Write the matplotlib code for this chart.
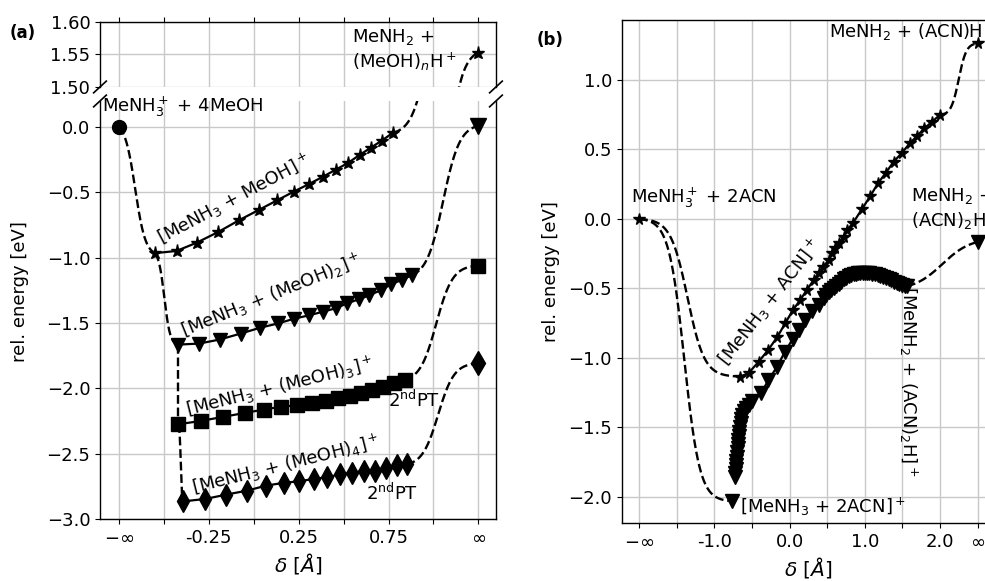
import numpy as np
import matplotlib
matplotlib.use("Agg")
import matplotlib.pyplot as plt

plt.rcParams['font.size'] = 13
plt.rcParams['axes.linewidth'] = 1.0

# ---------------- panel (a) data ----------------
a_x_minf = -0.75          # position of -inf tick
a_x_inf = 1.25            # position of +inf tick
a_start_y = 0.0           # MeNH3+ + 4MeOH

a1_x = [-0.55, -0.43, -0.318, -0.198, -0.082, 0.028, 0.132, 0.224, 0.307, 0.385,
        0.456, 0.524, 0.589, 0.65, 0.713, 0.774]
a1_y = [-0.965, -0.948, -0.885, -0.803, -0.713, -0.634, -0.559, -0.493, -0.436, -0.38,
        -0.326, -0.275, -0.213, -0.159, -0.103, -0.044]
a2_x = [-0.42, -0.304, -0.189, -0.072, 0.035, 0.135, 0.224, 0.307, 0.385, 0.456,
        0.52, 0.585, 0.644, 0.706, 0.765, 0.824, 0.88]
a2_y = [-1.665, -1.657, -1.626, -1.58, -1.536, -1.503, -1.467, -1.441, -1.413, -1.387,
        -1.349, -1.318, -1.287, -1.249, -1.203, -1.169, -1.133]
a3_x = [-0.42, -0.294, -0.17, -0.05, 0.057, 0.149, 0.243, 0.326, 0.40, 0.468,
        0.537, 0.598, 0.659, 0.718, 0.779, 0.839]
a3_y = [-2.275, -2.249, -2.218, -2.188, -2.162, -2.141, -2.129, -2.111, -2.093, -2.077,
        -2.059, -2.039, -2.013, -1.988, -1.962, -1.936]
a4_x = [-0.393, -0.272, -0.152, -0.035, 0.07, 0.167, 0.252, 0.335, 0.41, 0.478,
        0.546, 0.611, 0.676, 0.737, 0.796, 0.851]
a4_y = [-2.865, -2.847, -2.813, -2.782, -2.744, -2.723, -2.711, -2.693, -2.68, -2.659,
        -2.646, -2.634, -2.629, -2.611, -2.59, -2.582]
a_inf_y = [1.553, 0.01, -1.06, -1.808]   # stars, triangles, squares, diamonds at +inf

a_xticks = [-0.75, -0.5, -0.25, 0.0, 0.25, 0.5, 0.75, 1.0, 1.25]
a_xticklabels = [r'$-\infty$', '', '-0.25', '', '0.25', '', '0.75', '', r'$\infty$']

# ---------------- panel (b) data ----------------
b_x_minf = -2.0
b_x_inf = 2.5
b_start_y = 0.0           # MeNH3+ + 2ACN

b1_x = [-0.656, -0.545, -0.41, -0.28, -0.16, -0.057, 0.045, 0.142, 0.23, 0.32,
        0.386, 0.45, 0.52, 0.563, 0.608, 0.652, 0.718, 0.763, 0.843, 0.963,
        1.073, 1.175, 1.28, 1.383, 1.495, 1.596, 1.694, 1.79, 1.894, 1.995]
b1_y = [-1.134, -1.11, -1.027, -0.94, -0.847, -0.75, -0.655, -0.583, -0.51, -0.44,
        -0.39, -0.343, -0.295, -0.247, -0.21, -0.175, -0.127, -0.08, -0.029, 0.072,
        0.165, 0.257, 0.333, 0.412, 0.477, 0.544, 0.597, 0.652, 0.70, 0.748]
b2_min = (-0.77, -2.03)   # [MeNH3 + 2ACN]+ minimum
b2_x = [-0.725, -0.72, -0.715, -0.71, -0.705, -0.70, -0.695, -0.69, -0.685, -0.68,
        -0.675, -0.67, -0.66, -0.65, -0.64, -0.63, -0.61, -0.58, -0.54, -0.50,
        -0.38, -0.28, -0.168, -0.065, 0.04, 0.12, 0.209, 0.298, 0.386, 0.452,
        0.49, 0.52, 0.55, 0.585, 0.62, 0.652, 0.685, 0.718, 0.75, 0.785,
        0.82, 0.85, 0.88, 0.91, 0.94, 0.97, 1.0, 1.03, 1.06, 1.095,
        1.13, 1.17, 1.206, 1.24, 1.28, 1.317, 1.35, 1.39, 1.428, 1.46,
        1.50, 1.53, 1.56]
b2_y = [-1.86, -1.83, -1.80, -1.77, -1.74, -1.71, -1.68, -1.65, -1.62, -1.59,
        -1.56, -1.53, -1.50, -1.47, -1.44, -1.41, -1.38, -1.36, -1.34, -1.31,
        -1.255, -1.16, -1.065, -0.96, -0.865, -0.80, -0.725, -0.665, -0.617, -0.572,
        -0.545, -0.526, -0.51, -0.497, -0.48, -0.465, -0.45, -0.435, -0.422, -0.412,
        -0.403, -0.397, -0.393, -0.39, -0.388, -0.387, -0.387, -0.388, -0.39, -0.393,
        -0.398, -0.404, -0.41, -0.417, -0.425, -0.433, -0.442, -0.452, -0.46, -0.467,
        -0.474, -0.479, -0.484]
b_inf_y = [1.264, -0.165]   # stars, triangles at +inf

b_xticks = [-2.0, -1.5, -1.0, -0.5, 0.0, 0.5, 1.0, 1.5, 2.0, 2.5]
b_xticklabels = [r'$-\infty$', '', '-1.0', '', '0.0', '', '1.0', '', '2.0', r'$\infty$']


def connector(x0, y0, x1, y1, k=10.0, c=0.5, n=200):
    """smooth sigmoid-shaped dashed connection between two data points"""
    t = np.linspace(0, 1, n)
    s = 1 / (1 + np.exp(-k * (t - c)))
    s0 = 1 / (1 + np.exp(k * c))
    s1 = 1 / (1 + np.exp(-k * (1 - c)))
    s = (s - s0) / (s1 - s0)
    return x0 + (x1 - x0) * t, y0 + (y1 - y0) * s


DASH = dict(color='k', ls='--', lw=1.7)
SOLID = dict(color='k', ls='-', lw=1.6)

fig = plt.figure(figsize=(9.85, 5.81), dpi=100)

ax_top = fig.add_axes([0.1015, 0.8503, 0.402, 0.1119])
ax_bot = fig.add_axes([0.1015, 0.1067, 0.402, 0.7195])
ax_b = fig.add_axes([0.6312, 0.0993, 0.379, 0.8663])

for ax in (ax_top, ax_bot, ax_b):
    ax.set_axisbelow(True)
    ax.grid(True, color='#c8c8c8', lw=1.0)

# ---------- panel (a) ----------
xlim_a = (-0.856, 1.348)
for ax in (ax_top, ax_bot):
    ax.set_xlim(*xlim_a)
    ax.set_xticks(a_xticks)

ax_top.set_ylim(1.50, 1.60)
ax_top.set_yticks([1.50, 1.55, 1.60])
ax_top.set_yticklabels(['1.50', '1.55', '1.60'])
ax_top.spines['bottom'].set_visible(False)
ax_top.xaxis.tick_top()
ax_top.tick_params(axis='x', labeltop=False)

ax_bot.set_ylim(-3.0, 0.2)
ax_bot.set_yticks([-3.0, -2.5, -2.0, -1.5, -1.0, -0.5, 0.0])
ax_bot.spines['top'].set_visible(False)
ax_bot.xaxis.tick_bottom()
ax_bot.set_xticklabels(a_xticklabels)

ms = 9.5
# series
ax_bot.plot(a1_x, a1_y, marker='*', ms=ms, **SOLID)
ax_bot.plot(a2_x, a2_y, marker='v', ms=ms, **SOLID)
ax_bot.plot(a3_x, a3_y, marker='s', ms=ms, **SOLID)
ax_bot.plot(a4_x, a4_y, marker='d', ms=ms + 1.5, **SOLID)
ax_bot.plot([a_x_minf], [a_start_y], marker='o', ms=ms + 0.5, color='k', ls='none')
# end points at infinity
ax_top.plot([a_x_inf], [a_inf_y[0]], marker='*', ms=ms, color='k', ls='none', clip_on=False)
ax_bot.plot([a_x_inf], [a_inf_y[1]], marker='v', ms=ms + 1.5, color='k', ls='none')
ax_bot.plot([a_x_inf], [a_inf_y[2]], marker='s', ms=ms, color='k', ls='none')
ax_bot.plot([a_x_inf], [a_inf_y[3]], marker='d', ms=ms + 2.5, color='k', ls='none')

# dashed connectors (left side)
ax_bot.plot(*connector(a_x_minf, a_start_y, a1_x[0], a1_y[0], k=7, c=0.45), **DASH)
ax_bot.plot(*connector(a1_x[0], a1_y[0], a2_x[0], a2_y[0], k=8, c=0.4), **DASH)
ax_bot.plot(*connector(a2_x[0], a2_y[0], a3_x[0], a3_y[0], k=8, c=0.5), **DASH)
ax_bot.plot(*connector(a3_x[0], a3_y[0], a4_x[0], a4_y[0], k=8, c=0.5), **DASH)
# dashed connectors (right side)
cx, cy = connector(a1_x[-1], a1_y[-1], a_x_inf, a_inf_y[0], k=10, c=0.45)
ax_bot.plot(cx, cy, **DASH)
ax_top.plot(cx, cy, **DASH)
ax_bot.plot(*connector(a2_x[-1], a2_y[-1], a_x_inf, a_inf_y[1], k=8, c=0.47), **DASH)
ax_bot.plot(*connector(a3_x[-1], a3_y[-1], a_x_inf, a_inf_y[2], k=9, c=0.43), **DASH)
ax_bot.plot(*connector(a4_x[-1], a4_y[-1], a_x_inf, a_inf_y[3], k=9, c=0.44), **DASH)

# broken-axis marks
kw = dict(color='k', clip_on=False, lw=1.2)
dx = 0.016
dyt = 0.09
ax_top.plot([-dx, dx], [-dyt, dyt], transform=ax_top.transAxes, **kw)
ax_top.plot([1 - dx, 1 + dx], [-dyt, dyt], transform=ax_top.transAxes, **kw)
dyb = dyt * 0.1119 / 0.7195
ax_bot.plot([-dx, dx], [1 - dyb, 1 + dyb], transform=ax_bot.transAxes, **kw)
ax_bot.plot([1 - dx, 1 + dx], [1 - dyb, 1 + dyb], transform=ax_bot.transAxes, **kw)

# texts (a)
ax_bot.text(-0.842, 0.155, r'MeNH$_3^+$ + 4MeOH', ha='left', va='center')
ax_top.text(0.544, 1.557, 'MeNH$_2$ +\n(MeOH)$_n$H$^+$', ha='left', va='center')
ax_bot.text(-0.111, -0.554, r'[MeNH$_3$ + MeOH]$^+$', rotation=28, ha='center', va='center',
            rotation_mode='anchor')
ax_bot.text(0.10, -1.29, r'[MeNH$_3$ + (MeOH)$_2$]$^+$', rotation=22, ha='center', va='center',
            rotation_mode='anchor')
ax_bot.text(0.144, -1.99, r'[MeNH$_3$ + (MeOH)$_3$]$^+$', rotation=14, ha='center', va='center',
            rotation_mode='anchor')
ax_bot.text(0.178, -2.585, r'[MeNH$_3$ + (MeOH)$_4$]$^+$', rotation=14, ha='center', va='center',
            rotation_mode='anchor')
ax_bot.text(0.894, -2.09, r'2$^{\rm nd}$PT', ha='center', va='center')
ax_bot.text(0.77, -2.80, r'2$^{\rm nd}$PT', ha='center', va='center')

ax_bot.set_xlabel(r'$\delta\ [\AA]$', labelpad=3, fontsize=14.5)
fig.text(20 / 985, 1 - 291.5 / 581, 'rel. energy [eV]', rotation=90, ha='center', va='center',
         fontsize=13)
fig.text(10 / 985, 1 - 33 / 581, '(a)', fontweight='bold', ha='left', va='center', fontsize=12)

# ---------- panel (b) ----------
ax_b.set_xlim(-2.229, 2.73)
ax_b.set_ylim(-2.19, 1.432)
ax_b.set_xticks(b_xticks)
ax_b.set_xticklabels(b_xticklabels)
ax_b.set_yticks([-2.0, -1.5, -1.0, -0.5, 0.0, 0.5, 1.0])

msb = 8.5
ax_b.plot(b1_x, b1_y, marker='*', ms=msb, **SOLID)
ax_b.plot(b2_x, b2_y, marker='v', ms=msb + 1, **SOLID)
ax_b.plot([b_x_minf], [b_start_y], marker='*', ms=msb, color='k', ls='none')
ax_b.plot([b2_min[0]], [b2_min[1]], marker='v', ms=msb + 1.5, color='k', ls='none')
ax_b.plot([b_x_inf], [b_inf_y[0]], marker='*', ms=msb, color='k', ls='none')
ax_b.plot([b_x_inf], [b_inf_y[1]], marker='v', ms=msb + 1.5, color='k', ls='none')

ax_b.plot(*connector(b_x_minf, b_start_y, b1_x[0], b1_y[0], k=12, c=0.48), **DASH)
ax_b.plot(*connector(b_x_minf, b_start_y, b2_min[0], b2_min[1], k=12, c=0.49), **DASH)
ax_b.plot(*connector(b1_x[-1], b1_y[-1], b_x_inf, b_inf_y[0], k=10, c=0.5), **DASH)
ax_b.plot(*connector(b2_x[-1], b2_y[-1], b_x_inf, b_inf_y[1], k=5, c=0.5), **DASH)

ax_b.text(-2.105, 0.149, r'MeNH$_3^+$ + 2ACN', ha='left', va='center')
ax_b.text(0.519, 1.347, r'MeNH$_2$ + (ACN)H$^+$', ha='left', va='center')
ax_b.text(1.617, 0.072, 'MeNH$_2$ +\n(ACN)$_2$H$^+$', ha='left', va='center')
ax_b.text(-0.656, -2.07, r'[MeNH$_3$ + 2ACN]$^+$', ha='left', va='center')
ax_b.text(-0.256, -0.60, r'[MeNH$_3$ + ACN]$^+$', rotation=52, ha='center', va='center',
          rotation_mode='anchor')
ax_b.text(1.578, -1.166, r'[MeNH$_2$ + (ACN)$_2$H]$^+$', rotation=-90, ha='center', va='center',
          rotation_mode='anchor')

ax_b.set_xlabel(r'$\delta\ [\AA]$', labelpad=3, fontsize=14.5)
ax_b.set_ylabel('rel. energy [eV]', labelpad=6)
fig.text(537 / 985, 1 - 40 / 581, '(b)', fontweight='bold', ha='left', va='center', fontsize=12)

fig.savefig('out.png', dpi=100)
